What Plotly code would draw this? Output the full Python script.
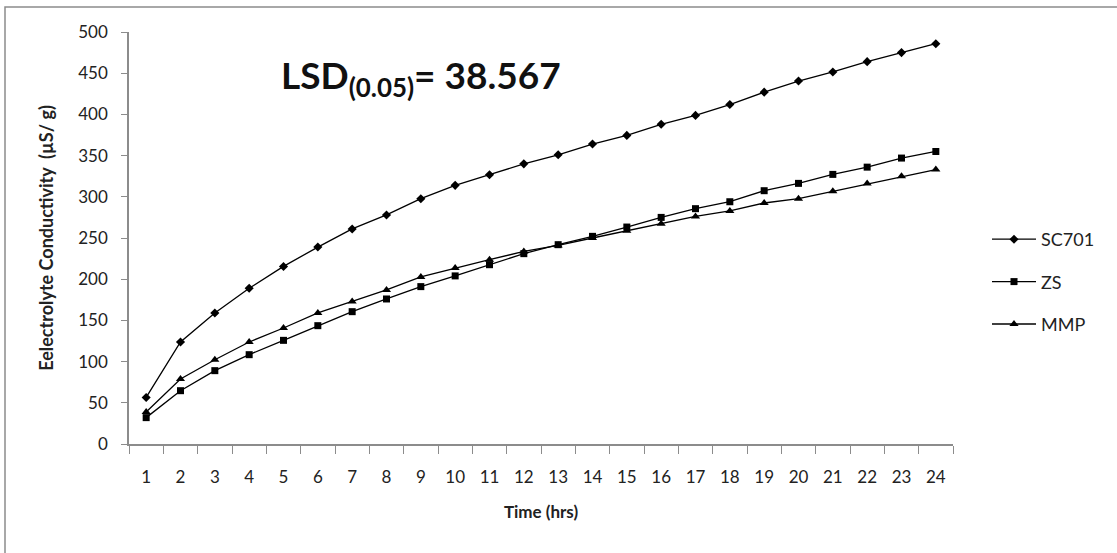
import plotly.graph_objects as go

hours = [str(h) for h in range(1, 25)]
sc701 = [56.5, 123.8, 159, 189, 215.5, 239, 261, 278, 297.7, 313.9, 326.8, 340,
         351, 364, 374.5, 388, 398.8, 412, 427, 440.5, 451.5, 464, 475, 485.8]
zs = [32, 64.7, 89, 108.4, 125.8, 143.6, 160.6, 176, 191, 204, 217.6, 231,
      241.9, 252, 263.3, 275, 285.6, 294, 307.4, 316.3, 327.2, 336, 347, 355]
mmp = [38.8, 78.9, 102.3, 123.8, 140.8, 159, 173, 187, 202.7, 213.6, 223.7, 233.7,
       241, 250, 258.8, 267.4, 276.2, 282.8, 292.5, 297.7, 306.6, 316, 324.8, 333]
y_ticks = [0, 50, 100, 150, 200, 250, 300, 350, 400, 450, 500]

FONT = "Lato"
fig = go.Figure()
series = [("SC701", sc701, "diamond", 7), ("ZS", zs, "square", 7), ("MMP", mmp, "triangle-up", 8)]
for i, (name, vals, sym, sz) in enumerate(series):
    fig.add_trace(go.Scatter(
        x=hours, y=vals, name=name, mode="lines+markers",
        line=dict(color="black", width=1.3),
        marker=dict(symbol=sym, size=sz, color="black"),
        legendgroup=name,
    ))

L, R, T, B = 129, 164, 32, 109
W, H = 1117, 553
pw, ph = W - L - R, H - T - B

fig.update_layout(
    width=W, height=H,
    margin=dict(l=L, r=R, t=T, b=B),
    paper_bgcolor="white", plot_bgcolor="white",
    font=dict(family=FONT, size=17, color="#222"),
    showlegend=True,
    legend=dict(x=(987 - L) / pw, y=(H - B - 282) / ph, xanchor="left", yanchor="middle",
                font=dict(family=FONT, size=18, color="#222"), itemwidth=44,
                tracegroupgap=16, bgcolor="rgba(0,0,0,0)"),
    xaxis=dict(
        type="category", tickson="boundaries", ticks="outside", ticklen=8,
        tickcolor="#8c8c8c", showline=True, linecolor="#8c8c8c", linewidth=1.5,
        showgrid=False, zeroline=False, ticklabelstandoff=17,
        tickfont=dict(family=FONT, size=17, color="#222"),
        title=dict(text="<b>Time (hrs)</b>", font=dict(family=FONT, size=17, color="#222"), standoff=20),
        range=[-0.5, 23.5],
    ),
    yaxis=dict(
        range=[0, 500], tickvals=y_ticks, ticks="outside", ticklen=6,
        tickcolor="#8c8c8c", showline=True, linecolor="#8c8c8c", linewidth=1.5,
        showgrid=False, zeroline=False, ticklabelstandoff=10,
        tickfont=dict(family=FONT, size=17, color="#222"),
        title=dict(text="<b>Eelectrolyte Conductivity  (µS/ g)</b>",
                   font=dict(family=FONT, size=18, color="#222"), standoff=20),
    ),
    annotations=[dict(
        text="<b>LSD<sub>(0.05)</sub>= 38.567</b>", xref="paper", yref="paper",
        x=(279 - L) / pw, y=(H - B - 78) / ph, xanchor="left", yanchor="middle",
        showarrow=False, font=dict(family=FONT, size=37, color="#111"),
    )],
    shapes=[dict(
        type="rect", xref="paper", yref="paper",
        x0=(5 - L) / pw, x1=(W + 5 - L) / pw,
        y0=(H - B - (H + 5)) / ph, y1=(H - B - 7) / ph,
        line=dict(color="#8c8c8c", width=1.5), fillcolor="rgba(0,0,0,0)", layer="below",
    )],
)

fig.write_html("out.html")
